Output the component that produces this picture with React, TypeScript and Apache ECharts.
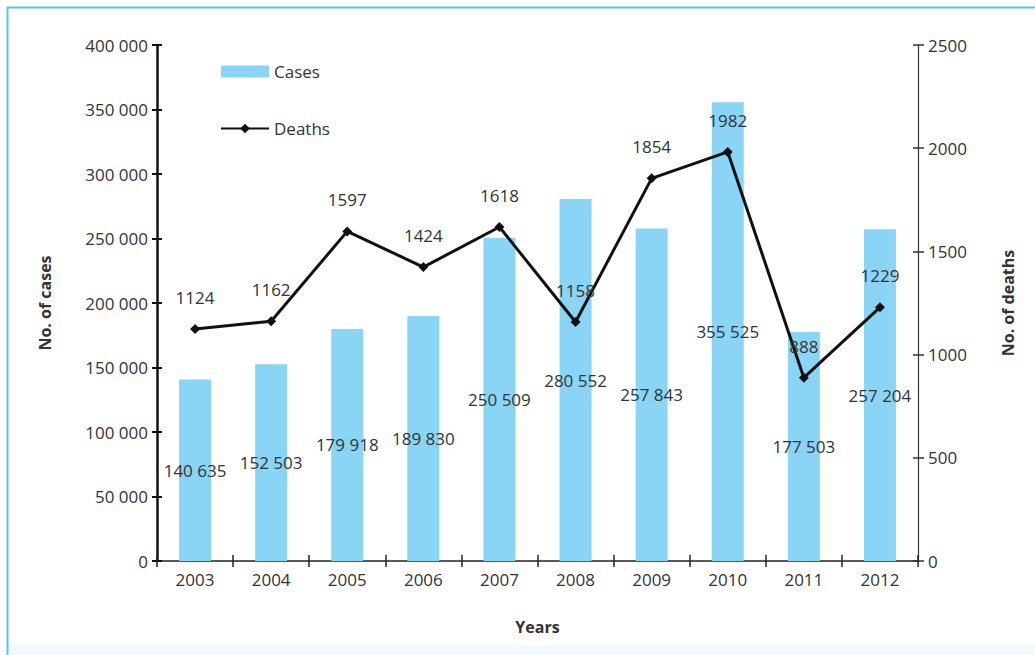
import React, { useEffect, useRef } from "react";
import * as echarts from "echarts";

const years = ["2003", "2004", "2005", "2006", "2007", "2008", "2009", "2010", "2011", "2012"];
const cases = [140635, 152503, 179918, 189830, 250509, 280552, 257843, 355525, 177503, 257204];
const deaths = [1124, 1162, 1597, 1424, 1618, 1158, 1854, 1982, 888, 1229];

const FONT = "Open Sans";
const TXT = "#333333";

const fmtSpace = (v: number) => String(v).replace(/\B(?=(\d{3})+(?!\d))/g, " ");

export default function App() {
  const ref = useRef<HTMLDivElement>(null);
  useEffect(() => {
    if (!ref.current) return;
    const chart = echarts.init(ref.current, null, { renderer: "svg" });
    const grid = { left: 157, right: 117, top: 45, bottom: 94 };
    chart.setOption({
      animation: false,
      backgroundColor: "#ffffff",
      textStyle: { fontFamily: FONT },
      graphic: [
        {
          type: "rect",
          shape: { x: 7, y: 645, width: 1040, height: 20 },
          style: { fill: "#f3fafd" },
          silent: true,
          z: -10,
        },
        {
          type: "rect",
          shape: { x: 7.5, y: 7.5, width: 1040, height: 700 },
          style: { fill: "none", stroke: "#5cc3e4", lineWidth: 2 },
          silent: true,
          z: -5,
        },
      ],
      legend: {
        left: 215,
        top: 58,
        orient: "vertical",
        itemGap: 40,
        itemWidth: 48,
        itemHeight: 12,
        textStyle: { fontFamily: FONT, fontSize: 17, color: TXT },
        data: [
          { name: "Cases", icon: "rect" },
          { name: "Deaths" },
        ],
      },
      grid,
      xAxis: [
        {
          type: "category",
          data: years,
          boundaryGap: true,
          name: "Years",
          nameLocation: "middle",
          nameGap: 58,
          nameTextStyle: { fontFamily: FONT, fontSize: 16, fontWeight: "bold", color: TXT },
          axisLine: { lineStyle: { color: "#222", width: 1.5 } },
          axisTick: { show: true, length: 6, lineStyle: { color: "#222", width: 1.5 } },
          axisLabel: { fontFamily: FONT, fontSize: 17, color: TXT, margin: 10 },
        },
        {
          type: "category",
          data: years,
          position: "bottom",
          boundaryGap: true,
          axisLine: { show: false },
          axisTick: { show: true, inside: true, length: 6, lineStyle: { color: "#222", width: 1.5 } },
          axisLabel: { show: false },
        },
      ],
      yAxis: [
        {
          type: "value",
          min: 0,
          max: 400000,
          interval: 50000,
          position: "left",
          name: "No. of cases",
          nameLocation: "middle",
          nameGap: 104,
          nameRotate: 90,
          nameTextStyle: { fontFamily: FONT, fontSize: 16, fontWeight: "bold", color: TXT },
          axisLine: { show: true, lineStyle: { color: "#111", width: 2.5 } },
          axisTick: { show: true, length: 5, lineStyle: { color: "#111", width: 2 } },
          axisLabel: { fontFamily: FONT, fontSize: 17, color: TXT, margin: 9, formatter: (v: number) => fmtSpace(v) },
          splitLine: { show: false },
        },
        {
          type: "value",
          min: 0,
          max: 2500,
          interval: 500,
          position: "right",
          name: "No. of deaths",
          nameLocation: "middle",
          nameGap: 82,
          nameRotate: 90,
          nameTextStyle: { fontFamily: FONT, fontSize: 16, fontWeight: "bold", color: TXT },
          axisLine: { show: true, lineStyle: { color: "#333", width: 1.2 } },
          axisTick: { show: true, length: 6, lineStyle: { color: "#333", width: 1.5 } },
          axisLabel: { fontFamily: FONT, fontSize: 17, color: TXT, margin: 10, formatter: (v: number) => String(v) },
          splitLine: { show: false },
        },
        {
          type: "value",
          min: 0,
          max: 400000,
          interval: 50000,
          position: "left",
          axisLine: { show: false },
          axisTick: { show: true, inside: true, length: 5, lineStyle: { color: "#111", width: 2 } },
          axisLabel: { show: false },
          splitLine: { show: false },
        },
        {
          type: "value",
          min: 0,
          max: 2500,
          interval: 500,
          position: "right",
          axisLine: { show: false },
          axisTick: { show: true, inside: true, length: 5, lineStyle: { color: "#333", width: 1.5 } },
          axisLabel: { show: false },
          splitLine: { show: false },
        },
      ],
      series: [
        {
          name: "Cases",
          type: "bar",
          data: cases,
          barWidth: "42%",
          itemStyle: { color: "#8ad4f6" },
          label: {
            show: true,
            position: "inside",
            fontFamily: FONT,
            fontSize: 17,
            color: TXT,
            formatter: (p: any) => fmtSpace(p.value),
          },
          z: 2,
        },
        {
          name: "Deaths",
          type: "line",
          yAxisIndex: 1,
          data: deaths,
          symbol: "diamond",
          symbolSize: 10,
          itemStyle: { color: "#111" },
          lineStyle: { color: "#111", width: 3 },
          label: {
            show: true,
            position: "top",
            distance: 18,
            fontFamily: FONT,
            fontSize: 17,
            color: TXT,
          },
          z: 3,
        },
      ],
    });
    return () => chart.dispose();
  }, []);
  return (
    <div
      ref={ref}
      style={{ position: "fixed", left: 0, top: 0, width: 1035, height: 655 }}
    />
  );
}
